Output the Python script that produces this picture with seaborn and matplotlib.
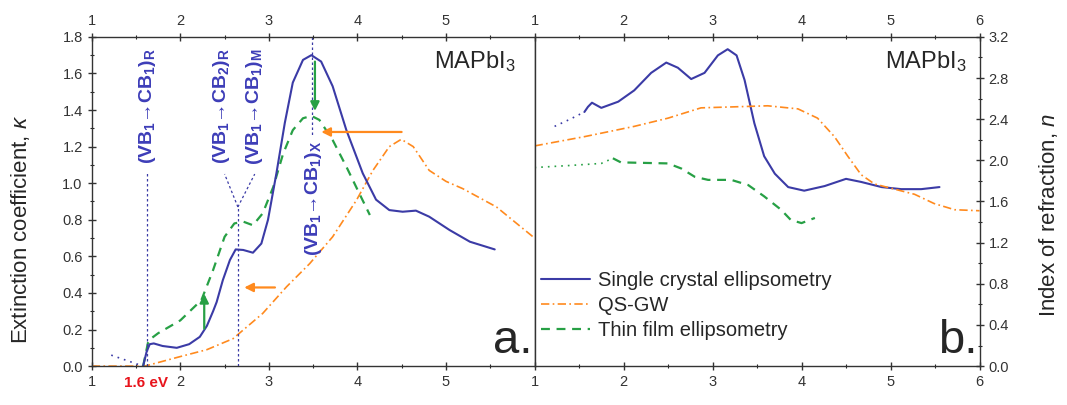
import matplotlib
matplotlib.use("Agg")
import matplotlib.pyplot as plt
import seaborn as sns
import numpy as np
import pandas as pd

# ---------------- data ----------------
# Panel a: extinction coefficient kappa vs photon energy (eV)
k_sc_E = [1.58, 1.62, 1.655, 1.70, 1.80, 1.96, 2.10, 2.22, 2.30, 2.37, 2.41, 2.48, 2.56, 2.625,
          2.71, 2.82, 2.915, 2.99, 3.085, 3.18, 3.27, 3.385, 3.48, 3.59, 3.72, 3.875, 4.06, 4.21,
          4.36, 4.51, 4.66, 4.81, 5.04, 5.27, 5.55]
k_sc_v = [0.0, 0.08, 0.12, 0.124, 0.11, 0.10, 0.12, 0.16, 0.22, 0.30, 0.35, 0.47, 0.58, 0.638,
          0.635, 0.62, 0.67, 0.80, 1.054, 1.33, 1.55, 1.674, 1.70, 1.665, 1.53, 1.29, 1.054, 0.91,
          0.853, 0.844, 0.85, 0.817, 0.744, 0.68, 0.638]
k_sc_tail_E = [1.22, 1.40, 1.58]
k_sc_tail_v = [0.06, 0.03, 0.0]

k_tf_E = [1.58, 1.64, 1.75, 2.0, 2.238, 2.37, 2.50, 2.61, 2.71, 2.82, 2.93, 3.05, 3.16, 3.27,
          3.385, 3.48, 3.57, 3.72, 3.875, 4.02, 4.14]
k_tf_v = [0.0, 0.14, 0.18, 0.25, 0.361, 0.525, 0.707, 0.78, 0.79, 0.77, 0.835, 0.98, 1.16, 1.29,
          1.355, 1.368, 1.346, 1.236, 1.09, 0.945, 0.826]

k_gw_E = [1.0, 1.3, 1.6, 1.99, 2.30, 2.595, 2.93, 3.20, 3.46, 3.72, 3.99, 4.175, 4.36, 4.495,
          4.63, 4.81, 5.0, 5.19, 5.57, 6.0]
k_gw_v = [0.0, 0.0, 0.0, 0.051, 0.09, 0.15, 0.288, 0.434, 0.56, 0.707, 0.908, 1.07, 1.20, 1.24,
          1.20, 1.07, 1.01, 0.97, 0.87, 0.70]

# Panel b: index of refraction n vs photon energy (eV)
n_sc_E = [1.56, 1.60, 1.645, 1.75, 1.94, 2.12, 2.31, 2.48, 2.61, 2.76, 2.91, 3.06, 3.17, 3.27,
          3.36, 3.47, 3.58, 3.70, 3.85, 4.03, 4.26, 4.50, 4.67, 4.90, 5.12, 5.345, 5.55]
n_sc_v = [2.47, 2.52, 2.56, 2.51, 2.57, 2.68, 2.85, 2.95, 2.90, 2.79, 2.85, 3.02, 3.08, 3.02,
          2.78, 2.36, 2.04, 1.87, 1.74, 1.705, 1.75, 1.82, 1.79, 1.74, 1.72, 1.72, 1.74]
n_sc_tail_E = [1.225, 1.40, 1.56]
n_sc_tail_v = [2.33, 2.40, 2.47]

n_gw_E = [1.0, 1.56, 2.12, 2.50, 2.87, 3.25, 3.62, 3.96, 4.18, 4.37, 4.52, 4.67, 4.82, 5.045,
          5.27, 5.49, 5.72, 6.0]
n_gw_v = [2.14, 2.23, 2.33, 2.41, 2.51, 2.52, 2.53, 2.50, 2.41, 2.23, 2.04, 1.86, 1.77, 1.72,
          1.67, 1.58, 1.52, 1.51]

n_tf_tail_E = [1.0, 1.40, 1.75, 1.88]
n_tf_tail_v = [1.93, 1.95, 1.97, 2.02]
n_tf_E = [1.88, 1.97, 2.50, 2.65, 2.80, 2.95, 3.21, 3.40, 3.58, 3.77, 3.88, 4.0, 4.15]
n_tf_v = [2.02, 1.98, 1.97, 1.92, 1.84, 1.81, 1.81, 1.76, 1.65, 1.52, 1.42, 1.39, 1.44]

series_names = ["Single crystal ellipsometry", "QS-GW", "Thin film ellipsometry"]
left_xticks = [1, 2, 3, 4, 5]
right_xticks = [1, 2, 3, 4, 5, 6]
left_yticks = [0.0, 0.2, 0.4, 0.6, 0.8, 1.0, 1.2, 1.4, 1.6, 1.8]
right_yticks = [0.0, 0.4, 0.8, 1.2, 1.6, 2.0, 2.4, 2.8, 3.2]

# ---------------- style ----------------
sns.set_style("ticks")
plt.rcParams['font.family'] = ['Liberation Sans', 'DejaVu Sans']
plt.rcParams['mathtext.fontset'] = 'custom'
plt.rcParams['mathtext.rm'] = 'Liberation Sans'
plt.rcParams['mathtext.it'] = 'Liberation Sans:italic'
plt.rcParams['mathtext.bf'] = 'Liberation Sans:bold'

BLUE = "#3b3ba6"
ORANGE = "#ff8a1e"
GREEN = "#27a045"
TXTBLUE = "#3d3db8"

fig = plt.figure(figsize=(10.67, 4.05), dpi=100)
axL = fig.add_axes([0.086, 0.096, 0.415, 0.813])
axR = fig.add_axes([0.501, 0.096, 0.417, 0.813])

def line(ax, x, y, color, dashes, lw=1.4, label=None):
    df = pd.DataFrame({"E": x, "v": y})
    sns.lineplot(data=df, x="E", y="v", ax=ax, color=color, lw=lw, sort=False,
                 estimator=None, label=label, legend=False)
    ln = ax.lines[-1]
    ln.set_solid_joinstyle('round')
    ln.set_dash_joinstyle('round')
    if dashes is not None:
        ln.set_dashes(dashes)
    return ln

# ---- panel a ----
line(axL, k_sc_tail_E, k_sc_tail_v, BLUE, (1, 3), lw=1.2)
line(axL, k_gw_E, k_gw_v, ORANGE, (5, 2, 1, 2), lw=1.2)
line(axL, k_tf_E, k_tf_v, GREEN, (4, 3), lw=1.6)
line(axL, k_sc_E, k_sc_v, BLUE, None, lw=1.5)

axL.set_xlim(1, 6)
axL.set_ylim(0, 1.8)
axL.set_xticks(left_xticks)
axL.set_xticks(np.arange(1.5, 6.0, 1.0), minor=True)
axL.set_yticks(left_yticks)
axL.set_yticklabels([f"{v:.1f}" for v in left_yticks])
axL.set_yticks(np.arange(0.1, 1.8, 0.2), minor=True)
axL.tick_params(axis='x', which='both', top=True, labeltop=True, bottom=True, direction='inout')
axL.tick_params(axis='y', which='both', left=True, right=False, direction='inout')
axL.tick_params(which='major', length=6, width=1, labelsize=10.5, colors='#333333')
axL.tick_params(which='minor', length=3, width=0.8)
axL.set_xlabel("")
axL.set_ylabel(r"Extinction coefficient, $\kappa$", fontsize=16)
axL.yaxis.set_label_coords(-0.135, 0.415)

# vertical guides
axL.plot([1.625, 1.625], [0, 1.06], ls=(0, (2, 2)), color=BLUE, lw=0.9)
axL.plot([2.65, 2.65], [0, 0.87], ls=(0, (2, 2)), color=BLUE, lw=0.9)
axL.plot([2.65, 2.50], [0.87, 1.05], ls=(0, (2, 2)), color=BLUE, lw=0.9)
axL.plot([2.65, 2.84], [0.87, 1.05], ls=(0, (2, 2)), color=BLUE, lw=0.9)
axL.plot([3.49, 3.49], [1.8, 1.25], ls=(0, (2, 2)), color=BLUE, lw=0.9)

tfs = 14
def trans(sub1, sub2, sub3):
    return (r"(VB$_{\mathbf{" + sub1 + r"}}$→CB$_{\mathbf{" + sub2 + r"}}$)$_{\mathbf{" + sub3 + r"}}$")
for xx, yy, lab in [(1.63, 1.42, trans("1", "1", "R")), (2.46, 1.42, trans("1", "2", "R")),
                    (2.84, 1.42, trans("1", "1", "M")), (3.50, 0.92, trans("1", "1", "X"))]:
    axL.text(xx, yy, lab, rotation=90, ha='center', va='center', color=TXTBLUE,
             fontsize=tfs, fontweight='bold')

# arrows
axL.annotate("", xy=(2.27, 0.41), xytext=(2.27, 0.19),
             arrowprops=dict(arrowstyle='-|>', color=GREEN, lw=1.6, mutation_scale=13))
axL.annotate("", xy=(3.52, 1.38), xytext=(3.52, 1.68),
             arrowprops=dict(arrowstyle='-|>', color=GREEN, lw=1.6, mutation_scale=13))
axL.annotate("", xy=(3.56, 1.28), xytext=(4.53, 1.28),
             arrowprops=dict(arrowstyle='-|>', color=ORANGE, lw=1.6, mutation_scale=13))
axL.annotate("", xy=(2.69, 0.43), xytext=(3.10, 0.43),
             arrowprops=dict(arrowstyle='-|>', color=ORANGE, lw=1.6, mutation_scale=13))

axL.text(1.61, -0.093, "1.6 eV", color="#e8141c", fontweight='bold', fontsize=11,
         ha='center', va='center', clip_on=False)
axL.text(0.865, 0.925, r"MAPbI$_3$", transform=axL.transAxes, ha='center', va='center', fontsize=17)
axL.text(0.995, 0.01, "a.", transform=axL.transAxes, ha='right', va='bottom', fontsize=34)

# ---- panel b ----
line(axR, n_sc_tail_E, n_sc_tail_v, BLUE, (1, 3), lw=1.2)
line(axR, n_tf_tail_E, n_tf_tail_v, GREEN, (1, 3), lw=1.2)
l_sc = line(axR, n_sc_E, n_sc_v, BLUE, None, lw=1.5)
l_gw = line(axR, n_gw_E, n_gw_v, ORANGE, (5, 2, 1, 2), lw=1.2)
l_tf = line(axR, n_tf_E, n_tf_v, GREEN, (4, 3), lw=1.6)

axR.set_xlim(1, 6)
axR.set_ylim(0, 3.2)
axR.set_xticks(right_xticks)
axR.set_xticks(np.arange(1.5, 6.0, 1.0), minor=True)
axR.set_yticks(right_yticks)
axR.set_yticklabels([f"{v:.1f}" for v in right_yticks])
axR.set_yticks(np.arange(0.2, 3.2, 0.4), minor=True)
axR.yaxis.tick_right()
axR.yaxis.set_label_position('right')
axR.tick_params(axis='x', which='both', top=True, labeltop=True, bottom=True, direction='inout')
axR.tick_params(axis='y', which='both', left=False, right=True, labelleft=False, labelright=True,
                direction='inout')
axR.tick_params(which='major', length=6, width=1, labelsize=10.5, colors='#333333')
axR.tick_params(which='minor', length=3, width=0.8)
axR.set_xlabel("")
axR.set_ylabel(r"Index of refraction, $n$", fontsize=16)
axR.yaxis.set_label_coords(1.13, 0.46)

axR.text(0.88, 0.925, r"MAPbI$_3$", transform=axR.transAxes, ha='center', va='center', fontsize=17)
axR.text(0.995, 0.01, "b.", transform=axR.transAxes, ha='right', va='bottom', fontsize=34)

leg = axR.legend([l_sc, l_gw, l_tf], series_names, loc='upper left', bbox_to_anchor=(0.015, 0.29),
                 frameon=False, fontsize=14.5, handlelength=2.4, handletextpad=0.4,
                 borderpad=0, borderaxespad=0, labelspacing=0.3)

for ax in (axL, axR):
    for s in ax.spines.values():
        s.set_visible(True)
        s.set_color('#333333')
        s.set_linewidth(1.0)

fig.savefig("out.png", dpi=100)
